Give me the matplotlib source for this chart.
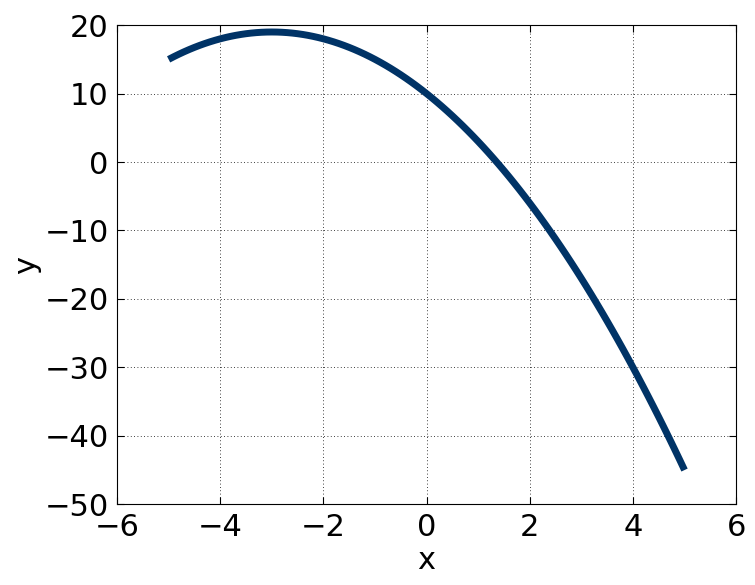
import matplotlib
matplotlib.use('Agg')
import matplotlib.pyplot as plt

# values
x_vals = [-5.0, -4.9, -4.8, -4.7, -4.6, -4.5, -4.4, -4.3, -4.2, -4.1,
          -4.0, -3.9, -3.8, -3.7, -3.6, -3.5, -3.4, -3.3, -3.2, -3.1,
          -3.0, -2.9, -2.8, -2.7, -2.6, -2.5, -2.4, -2.3, -2.2, -2.1,
          -2.0, -1.9, -1.8, -1.7, -1.6, -1.5, -1.4, -1.3, -1.2, -1.1,
          -1.0, -0.9, -0.8, -0.7, -0.6, -0.5, -0.4, -0.3, -0.2, -0.1,
          0.0, 0.1, 0.2, 0.3, 0.4, 0.5, 0.6, 0.7, 0.8, 0.9,
          1.0, 1.1, 1.2, 1.3, 1.4, 1.5, 1.6, 1.7, 1.8, 1.9,
          2.0, 2.1, 2.2, 2.3, 2.4, 2.5, 2.6, 2.7, 2.8, 2.9,
          3.0, 3.1, 3.2, 3.3, 3.4, 3.5, 3.6, 3.7, 3.8, 3.9,
          4.0, 4.1, 4.2, 4.3, 4.4, 4.5, 4.6, 4.7, 4.8, 4.9,
          5.0]
y_vals = [15.0, 15.39, 15.76, 16.11, 16.44, 16.75, 17.04, 17.31, 17.56, 17.79,
          18.0, 18.19, 18.36, 18.51, 18.64, 18.75, 18.84, 18.91, 18.96, 18.99,
          19.0, 18.99, 18.96, 18.91, 18.84, 18.75, 18.64, 18.51, 18.36, 18.19,
          18.0, 17.79, 17.56, 17.31, 17.04, 16.75, 16.44, 16.11, 15.76, 15.39,
          15.0, 14.59, 14.16, 13.71, 13.24, 12.75, 12.24, 11.71, 11.16, 10.59,
          10.0, 9.39, 8.76, 8.11, 7.44, 6.75, 6.04, 5.31, 4.56, 3.79,
          3.0, 2.19, 1.36, 0.51, -0.36, -1.25, -2.16, -3.09, -4.04, -5.01,
          -6.0, -7.01, -8.04, -9.09, -10.16, -11.25, -12.36, -13.49, -14.64, -15.81,
          -17.0, -18.21, -19.44, -20.69, -21.96, -23.25, -24.56, -25.89, -27.24, -28.61,
          -30.0, -31.41, -32.84, -34.29, -35.76, -37.25, -38.76, -40.29, -41.84, -43.41,
          -45.0]
x_ticks = [-6, -4, -2, 0, 2, 4, 6]
y_ticks = [-50, -40, -30, -20, -10, 0, 10, 20]

fig = plt.figure(figsize=(7.55, 5.85), dpi=100, facecolor='white')
ax = fig.add_axes([0.155, 0.138, 0.82, 0.819])
ax.plot(x_vals, y_vals, color='#003366', linewidth=5, solid_capstyle='butt')
ax.set_xlim(-6, 6)
ax.set_ylim(-50, 20)
ax.set_xticks(x_ticks)
ax.set_yticks(y_ticks)
ax.grid(True, color='black', linestyle=(0, (1, 3)), linewidth=0.6)
ax.tick_params(direction='in', top=True, right=True, labelsize=22, length=5, pad=6)
ax.set_xlabel('x', fontsize=22, labelpad=3)
ax.set_ylabel('y', fontsize=22, labelpad=2)
fig.savefig('out.png', dpi=100)
